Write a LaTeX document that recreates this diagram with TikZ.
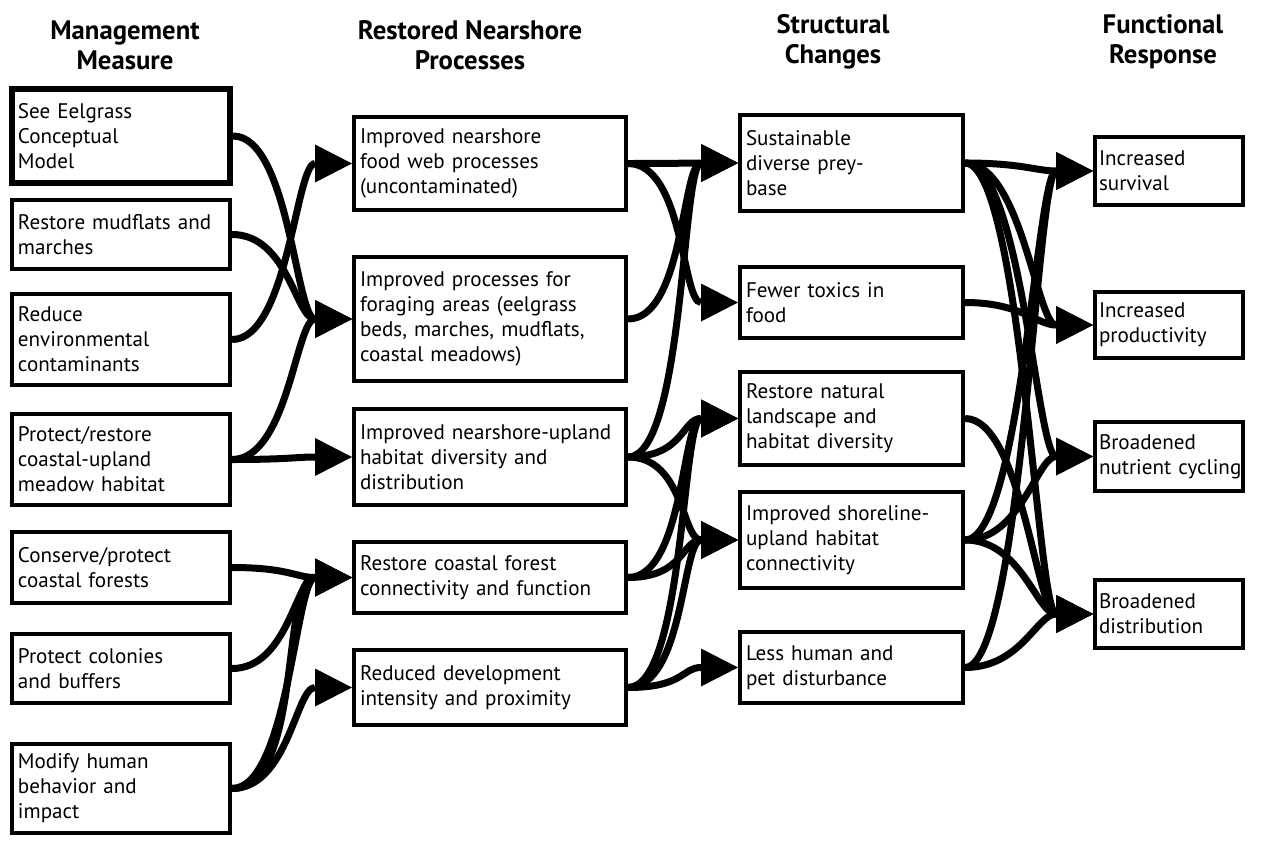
\documentclass[tikz,border=0pt]{standalone}
\usepackage{fontspec}
\setmainfont{PT Sans}
\usepackage{tikz}
\usetikzlibrary{arrows.meta}

\begin{document}
\begin{tikzpicture}[x=0.25mm, y=-0.25mm,
        box/.style={rectangle, draw, line width=1mm, align=left, inner xsep=1.5mm, inner ysep=0pt, font=\fontsize{15}{17.8}\selectfont},
        mbox/.style={box, text width=51.5mm},
        pbox/.style={box, text width=65mm},
        sbox/.style={box, text width=52.75mm},
        rbox/.style={box, inner xsep=1mm, text width=35mm},
        head/.style={align=center, font=\fontsize{19}{21.5}\selectfont\bfseries},
        flow/.style={line width=1.75mm, out=0, in=180, distance=14mm, -{Triangle[length=9.25mm, width=9.5mm, line width=0pt]}}]
        \useasboundingbox (0,0) rectangle (1270,842);

        \node (h1) at (125,45) [head] {Management\\Measure};
        \node (h2) at (470,45) [head] {Restored Nearshore\\Processes};
        \node (h3) at (833,42) [head] {Structural\\Changes};
        \node (h4) at (1163,42) [head] {Functional\\Response};

        \node (m1) at (121,136) [mbox, line width=1.5mm, minimum height=23.5mm] {See Eelgrass\\Conceptual\\Model};
        \node (m2) at (121,234.5) [mbox, minimum height=17.25mm] {Restore mudflats and\\marches};
        \node (m3) at (121,339.5) [mbox, minimum height=22.75mm] {Reduce\\environmental\\contaminants};
        \node (m4) at (121,459.5) [mbox, minimum height=22.75mm] {Protect/restore\\coastal-upland\\meadow habitat};
        \node (m5) at (121,567.5) [mbox, minimum height=17.75mm] {Conserve/protect\\coastal forests};
        \node (m6) at (121,668.5) [mbox, minimum height=17.25mm] {Protect colonies\\and buffers};
        \node (m7) at (121,788.5) [mbox, minimum height=22.25mm] {Modify human\\behavior and\\impact};

        \node (p1) at (490,163.5) [pbox, minimum height=23.25mm] {Improved nearshore\\food web processes\\(uncontaminated)};
        \node (p2) at (490,319) [pbox, minimum height=31mm] {Improved processes for\\foraging areas (eelgrass\\beds, marches, mudflats,\\coastal meadows)};
        \node (p3) at (490,457) [pbox, minimum height=24mm] {Improved nearshore-upland\\habitat diversity and\\distribution};
        \node (p4) at (490,577.5) [pbox, minimum height=17.75mm] {Restore coastal forest\\connectivity and function};
        \node (p5) at (490,687.5) [pbox, minimum height=18.75mm] {Reduced development\\intensity and proximity};

        \node (s1) at (851.5,163) [sbox, minimum height=24mm] {Sustainable\\diverse prey-\\base};
        \node (s2) at (851.5,302.5) [sbox, minimum height=17.75mm] {Fewer toxics in\\food};
        \node (s3) at (851.5,418.5) [sbox, minimum height=23.25mm] {Restore natural\\landscape and\\habitat diversity};
        \node (s4) at (851.5,540) [sbox, minimum height=24mm] {Improved shoreline-\\upland habitat\\connectivity};
        \node (s5) at (851.5,667.5) [sbox, minimum height=17.75mm] {Less human and\\pet disturbance};

        \node (r1) at (1169,171) [rbox, minimum height=17mm] {Increased\\survival};
        \node (r2) at (1169,325) [rbox, minimum height=16.5mm] {Increased\\productivity};
        \node (r3) at (1169,456.5) [rbox, minimum height=17.25mm] {Broadened\\\mbox{nutrient cycling}};
        \node (r4) at (1169,614) [rbox, minimum height=17mm] {Broadened\\distribution};

        \draw[flow] (m1.east) to (p2.west);
        \draw[flow] (m2.east) to (p2.west);
        \draw[flow] (m3.east) to (p1.west);
        \draw[flow] (m4.east) to (p2.west);
        \draw[flow] (m4.east) to (p3.west);
        \draw[flow] (m5.east) to (p4.west);
        \draw[flow] (m6.east) to (p4.west);
        \draw[flow] (m7.east) to (p4.west);
        \draw[flow, distance=18mm] (m7.east) to (p4.west);
        \draw[flow] (m7.east) to (p5.west);

        \draw[flow] (p1.east) to (s1.west);
        \draw[flow] (p1.east) to (s2.west);
        \draw[flow] (p2.east) to (s1.west);
        \draw[flow] (p3.east) to (s1.west);
        \draw[flow] (p3.east) to (s3.west);
        \draw[flow] (p3.east) to (s4.west);
        \draw[flow] (p4.east) to (s3.west);
        \draw[flow] (p4.east) to (s4.west);
        \draw[flow] (p5.east) to (s3.west);
        \draw[flow] (p5.east) to (s4.west);
        \draw[flow] (p5.east) to (s5.west);

        \draw[flow] (s1.east) to (r1.west);
        \draw[flow] (s1.east) to (r2.west);
        \draw[flow] (s1.east) to (r3.west);
        \draw[flow] (s1.east) to (r4.west);
        \draw[flow] (s2.east) to (r2.west);
        \draw[flow] (s3.east) to (r4.west);
        \draw[flow] (s4.east) to (r1.west);
        \draw[flow] (s4.east) to (r3.west);
        \draw[flow] (s4.east) to (r4.west);
        \draw[flow] (s5.east) to (r1.west);
        \draw[flow] (s5.east) to (r4.west);
    \end{tikzpicture}
\end{document}
